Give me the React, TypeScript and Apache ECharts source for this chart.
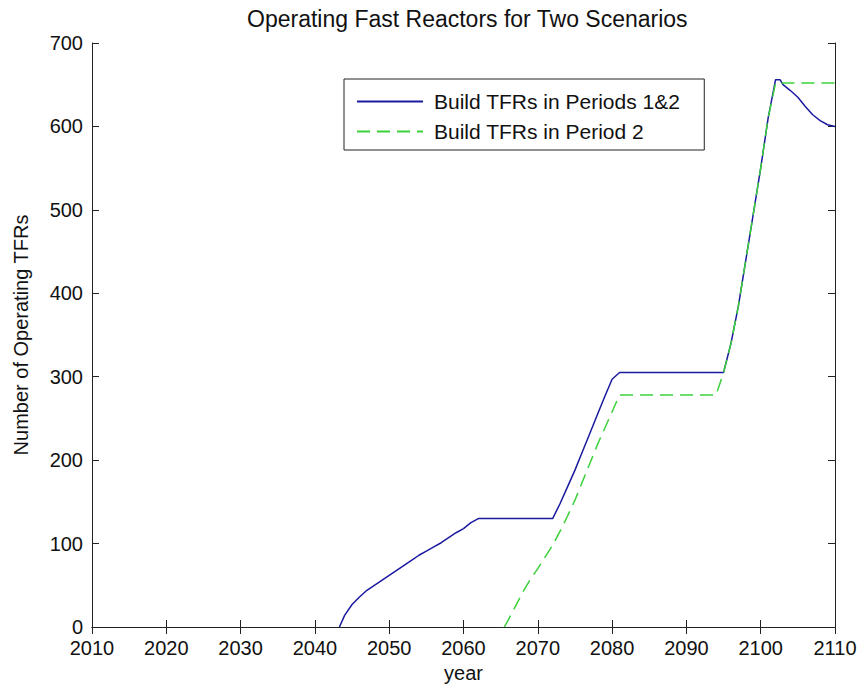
import React, { useEffect, useRef } from "react";
import * as echarts from "echarts";

// Scenario A: fast reactors built in periods 1 and 2
const periods12Years = [
  2043.3, 2044, 2045, 2046, 2047, 2048, 2049, 2050, 2051, 2052, 2053, 2054, 2055, 2056,
  2057, 2058, 2059, 2060, 2061, 2062, 2072, 2073, 2074, 2075, 2076, 2077, 2078, 2079,
  2080, 2081, 2095, 2096, 2097, 2098, 2099, 2100, 2101, 2102, 2102.6, 2103, 2104, 2105,
  2106, 2107, 2108, 2109, 2110,
];
const periods12Counts = [
  0, 14, 27, 36, 44, 50, 56, 62, 68, 74, 80, 86, 91, 96,
  101, 107, 113, 118, 125, 130, 130, 148, 168, 188, 210, 232, 254, 276,
  297, 305, 305, 340, 385, 440, 495, 550, 610, 656, 656, 650, 643, 635,
  624, 614, 607, 602, 600,
];

// Scenario B: fast reactors built in period 2 only
const period2Years = [
  2065.5, 2066, 2067, 2068, 2069, 2070, 2071, 2072, 2073, 2074, 2075, 2076, 2077, 2078,
  2079, 2080, 2081, 2094, 2095, 2096, 2097, 2098, 2099, 2100, 2101, 2102, 2110,
];
const period2Counts = [
  0, 8, 25, 42, 57, 70, 84, 98, 115, 133, 152, 174, 196, 218,
  238, 258, 278, 278, 305, 340, 385, 440, 495, 550, 610, 652, 652,
];

const seriesNames = ["Build TFRs in Periods 1&2", "Build TFRs in Period 2"];
const titleText = "Operating Fast Reactors for Two Scenarios";
const xName = "year";
const yName = "Number of Operating TFRs";

const FONT = "'Liberation Sans', Arial, Helvetica, sans-serif";
const W = 862;
const H = 694;

const zip = (xs: number[], ys: number[]) => xs.map((x, i) => [x, ys[i]]);

export default function App() {
  const ref = useRef<HTMLDivElement>(null);

  useEffect(() => {
    if (!ref.current) return;
    const chart = echarts.init(ref.current, null, { renderer: "svg" });

    const axisLine = { show: true, lineStyle: { color: "#222", width: 1 } };
    const tick = { show: true, inside: true, length: 7, lineStyle: { color: "#222", width: 1 } };
    const labelStyle = { color: "#111", fontFamily: FONT, fontSize: 20 };

    chart.setOption({
      animation: false,
      backgroundColor: "#fff",
      title: {
        text: titleText,
        left: 242,
        top: 2,
        textStyle: { fontFamily: FONT, fontSize: 23, fontWeight: "normal", color: "#111" },
      },
      grid: { left: 92, right: 27, top: 43, bottom: 67, containLabel: false },
      legend: {
        left: 344,
        top: 79,
        orient: "vertical",
        padding: [12, 24, 8, 12],
        itemGap: 9,
        itemWidth: 66,
        itemHeight: 14,
        backgroundColor: "#fff",
        borderColor: "#222",
        borderWidth: 1,
        borderRadius: 0,
        itemStyle: { opacity: 0 },
        textStyle: { fontFamily: FONT, fontSize: 21, color: "#111", padding: [0, 0, 0, 6] },
        data: seriesNames,
      },
      xAxis: [
        {
          type: "value",
          min: 2010,
          max: 2110,
          interval: 10,
          name: xName,
          nameLocation: "middle",
          nameGap: 21,
          nameTextStyle: { ...labelStyle },
          axisLine,
          axisTick: tick,
          axisLabel: { ...labelStyle, margin: 11, formatter: (v: number) => String(v) },
          splitLine: { show: false },
        },
        {
          type: "value",
          position: "top",
          min: 2010,
          max: 2110,
          interval: 10,
          axisLine,
          axisTick: tick,
          axisLabel: { show: false },
          splitLine: { show: false },
        },
      ],
      yAxis: [
        {
          type: "value",
          min: 0,
          max: 700,
          interval: 100,
          name: yName,
          nameLocation: "middle",
          nameGap: 61,
          nameRotate: 90,
          nameTextStyle: { ...labelStyle },
          axisLine,
          axisTick: tick,
          axisLabel: { ...labelStyle, margin: 9 },
          splitLine: { show: false },
        },
        {
          type: "value",
          position: "right",
          min: 0,
          max: 700,
          interval: 100,
          axisLine,
          axisTick: tick,
          axisLabel: { show: false },
          splitLine: { show: false },
        },
      ],
      series: [
        {
          name: seriesNames[0],
          type: "line",
          data: zip(periods12Years, periods12Counts),
          symbol: "none",
          color: "#1a1aa0",
          lineStyle: { color: "#1a1aa0", width: 1.5 },
        },
        {
          name: seriesNames[1],
          type: "line",
          data: zip(period2Years, period2Counts),
          symbol: "none",
          color: "#3ad23a",
          lineStyle: { color: "#3ad23a", width: 1.5, type: [13, 7] },
        },
      ],
    });

    return () => chart.dispose();
  }, []);

  return <div ref={ref} style={{ width: W, height: H, position: "absolute", left: 0, top: 0 }} />;
}
